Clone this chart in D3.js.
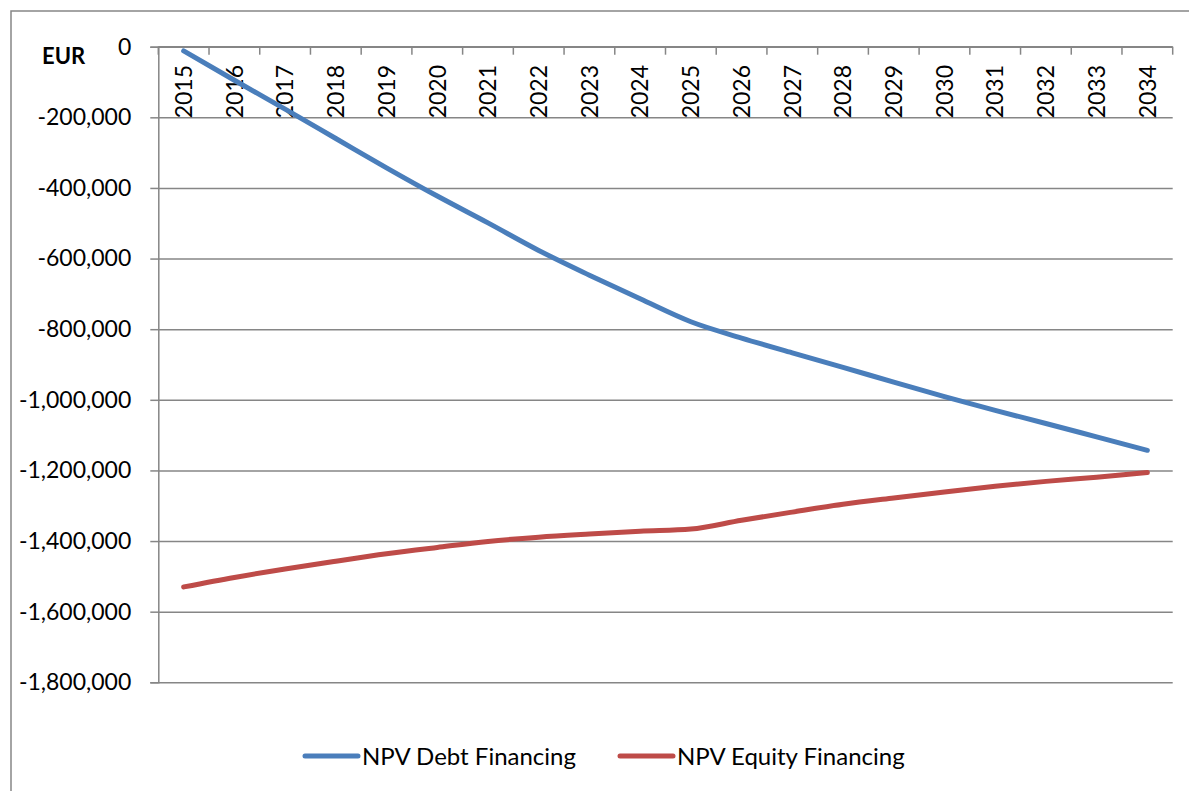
<!DOCTYPE html>
<html>
<head>
<meta charset="utf-8">
<script src="https://cdn.jsdelivr.net/npm/d3@7"></script>
<style>
body { margin: 0; background: #fff; }
text { font-family: Lato, "Open Sans", sans-serif; fill: #000; }
</style>
</head>
<body>
<div id="grafica"></div>
<script>
// datos
var years = ["2015","2016","2017","2018","2019","2020","2021","2022","2023","2024",
             "2025","2026","2027","2028","2029","2030","2031","2032","2033","2034"];
var debt = [-12000, -95000, -177000, -260000, -343000, -423000, -499000, -577000, -647000, -714000,
            -779000, -825000, -867000, -908000, -950000, -991000, -1030000, -1067000, -1105000, -1143000];
var equity = [-1530000, -1503000, -1479000, -1457000, -1436000, -1418000, -1401000, -1389000, -1380000, -1372000,
              -1366000, -1341000, -1318000, -1296000, -1278000, -1261000, -1245000, -1231000, -1219000, -1206000];
var yTicks = [0, -200000, -400000, -600000, -800000, -1000000, -1200000, -1400000, -1600000, -1800000];
var seriesNames = ["NPV Debt Financing", "NPV Equity Financing"];
var seriesColors = ["#4a7ebb", "#be4b48"];

var W = 1189, H = 791;
var izq = 158.3, der = 1172.7, arriba = 46.7, abajo = 682.3;
var gris = "#868686";

var svg = d3.select("#grafica")
	.append("svg")
	.attr("width", W)
	.attr("height", H);

// borde exterior (derecha y abajo quedan fuera)
svg.append("rect")
	.attr("x", 11)
	.attr("y", 11)
	.attr("width", W)
	.attr("height", H)
	.attr("fill", "none")
	.attr("stroke", gris)
	.attr("stroke-width", 1.5);

var x = d3.scaleBand().domain(years).range([izq, der]);
var y = d3.scaleLinear().domain([-1800000, 0]).range([abajo, arriba]);

var fmt = d3.formatLocale({decimal: ".", thousands: ",", grouping: [3], currency: ["", ""], minus: "-"}).format(",");

// lineas de cuadricula + eje y
var ejeY = svg.append("g")
	.attr("transform", "translate(" + izq + ",0)")
	.call(d3.axisLeft(y).tickValues(yTicks).tickSize(8).tickPadding(19).tickFormat(fmt));
ejeY.select(".domain").attr("stroke", gris).attr("stroke-width", 1.5);
ejeY.selectAll(".tick line").attr("stroke", gris).attr("stroke-width", 1.5);
ejeY.selectAll(".tick text")
	.style("font-size", "23px")
	.attr("font-family", "Lato, sans-serif");
ejeY.selectAll(".tick").append("line")
	.attr("x1", 0)
	.attr("x2", der - izq)
	.attr("stroke", gris)
	.attr("stroke-width", 1.5);

// eje x en el cero
var ejeX = svg.append("g")
	.attr("transform", "translate(0," + y(0) + ")")
	.call(d3.axisBottom(x).tickSize(0).tickPadding(0));
ejeX.select(".domain").remove();
ejeX.selectAll(".tick text")
	.attr("transform", "rotate(-90)")
	.attr("x", -(65 - y(0)))
	.attr("y", 0)
	.attr("dy", "0.36em")
	.attr("text-anchor", "end")
	.style("font-size", "23px");

var bordes = years.map(function(d) { return x(d); }).concat([x.range()[1]]);
ejeX.selectAll(".borde")
	.data(bordes)
	.enter().append("line")
	.attr("x1", function(d) { return d; })
	.attr("x2", function(d) { return d; })
	.attr("y1", 0)
	.attr("y2", 8)
	.attr("stroke", gris)
	.attr("stroke-width", 1.5);
svg.append("line")
	.attr("x1", izq)
	.attr("x2", der)
	.attr("y1", y(0))
	.attr("y2", y(0))
	.attr("stroke", gris)
	.attr("stroke-width", 1.5);

svg.append("text")
	.attr("x", 42)
	.attr("y", 56)
	.attr("dy", "0.36em")
	.style("font-size", "22px")
	.style("font-weight", "bold")
	.text("EUR");

// lineas
var linea = d3.line()
	.x(function(d, i) { return x(years[i]) + x.bandwidth() / 2; })
	.y(function(d) { return y(d); })
	.curve(d3.curveMonotoneX);

[debt, equity].forEach(function(serie, k) {
	svg.append("path")
		.datum(serie)
		.attr("d", linea)
		.attr("fill", "none")
		.attr("stroke", seriesColors[k])
		.attr("stroke-width", 5)
		.attr("stroke-linecap", "round")
		.attr("stroke-linejoin", "round");
});

// leyenda
var legX = [305, 620];
seriesNames.forEach(function(n, k) {
	svg.append("line")
		.attr("x1", legX[k])
		.attr("x2", legX[k] + 53)
		.attr("y1", 756)
		.attr("y2", 756)
		.attr("stroke", seriesColors[k])
		.attr("stroke-width", 5)
		.attr("stroke-linecap", "round");
	svg.append("text")
		.attr("x", legX[k] + 57)
		.attr("y", 756)
		.attr("dy", "0.36em")
		.style("font-size", "24px")
		.text(n);
});
</script>
</body>
</html>
